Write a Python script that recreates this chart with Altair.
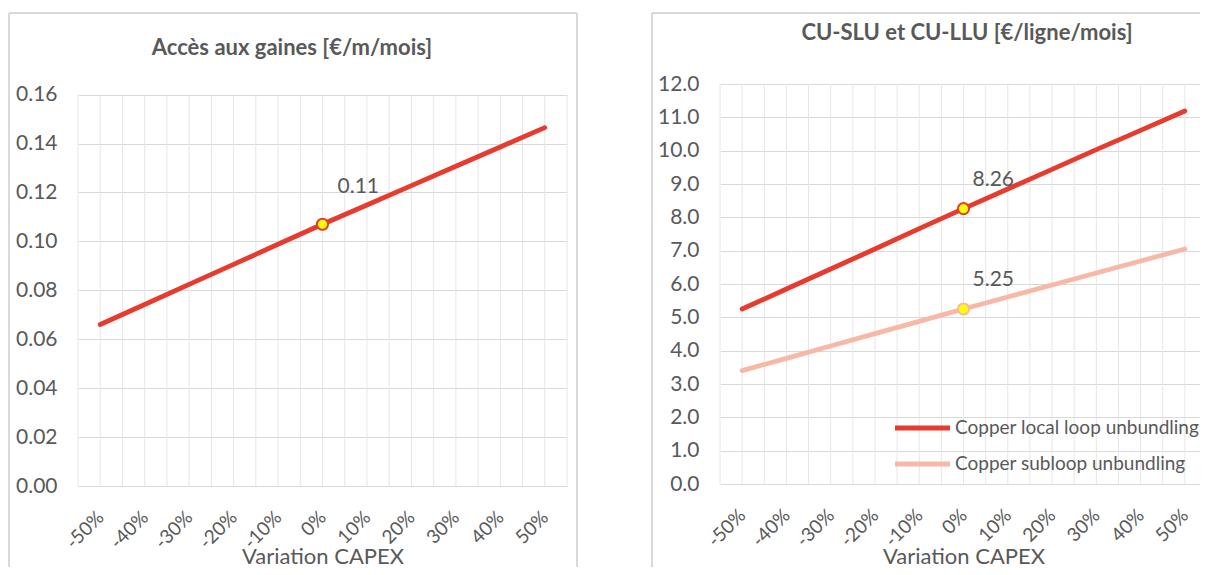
import altair as alt
import pandas as pd

# ---------------- data ----------------
variation = [-50, -40, -30, -20, -10, 0, 10, 20, 30, 40, 50]
acces_gaines = [0.0660, 0.0742, 0.0824, 0.0906, 0.0988, 0.1070, 0.1149, 0.1228, 0.1307, 0.1386, 0.1465]
llu = [5.25, 5.85, 6.45, 7.05, 7.66, 8.26, 8.85, 9.44, 10.03, 10.61, 11.19]
slu = [3.40, 3.77, 4.14, 4.51, 4.88, 5.25, 5.61, 5.97, 6.33, 6.69, 7.05]
series_names = ["Copper local loop unbundling", "Copper subloop unbundling"]
left_ticks = [0.0, 0.02, 0.04, 0.06, 0.08, 0.10, 0.12, 0.14, 0.16]
right_ticks = [0.0, 1.0, 2.0, 3.0, 4.0, 5.0, 6.0, 7.0, 8.0, 9.0, 10.0, 11.0, 12.0]
left_title = "Accès aux gaines [€/m/mois]"
right_title = "CU-SLU et CU-LLU [€/ligne/mois]"
x_title = "Variation CAPEX"

# ---------------- style ----------------
RED = "#E63B2E"
SALMON = "#F7B9A6"
YELLOW = "#FFFF00"
TXT = "#595959"
GRID_H = "#D9D9D9"
GRID_V = "#E6E6E6"
FRAME = "#D9D9D9"
FONT = "Lato"

grid_x = [-55 + 5 * i for i in range(23)]  # major + minor category gridlines
x_scale = alt.Scale(domain=[-55, 55], nice=False, zero=False)


def x_axis(title_y):
    return alt.Axis(values=variation, labelExpr="datum.value + '%'", labelAngle=315,
                    labelAlign="right", labelBaseline="middle", labelPadding=28,
                    labelFontSize=19, labelColor=TXT, labelFont=FONT, labelOverlap=False,
                    ticks=False, domain=False, grid=False, title=x_title,
                    titleFontSize=22, titleFont=FONT, titleColor=TXT,
                    titleFontWeight="normal", titleBaseline="alphabetic", titleY=title_y)


def y_axis(values, fmt):
    return alt.Axis(values=values, tickCount=len(values), format=fmt, labelFontSize=21,
                    labelPadding=21, labelColor=TXT, labelFont=FONT, labelOverlap=False,
                    ticks=False, domain=False, grid=True, gridColor=GRID_H, gridWidth=1,
                    title=None)


one = pd.DataFrame({"k": [0]})


def hrule(x1, x2, y):
    return alt.Chart(one).mark_rule(color=FRAME, strokeWidth=2).encode(
        x=alt.value(x1), x2=alt.value(x2), y=alt.value(y))


def vrule(x, y1, y2):
    return alt.Chart(one).mark_rule(color=FRAME, strokeWidth=2).encode(
        x=alt.value(x), y=alt.value(y1), y2=alt.value(y2))


def title_mark(text, x, y):
    return alt.Chart(one).mark_text(text=text, font=FONT, fontSize=22, fontWeight="bold",
                                    color=TXT, align="center", baseline="middle").encode(
        x=alt.value(x), y=alt.value(y))


BOTTOM = 483  # frame bottom relative to the plot top (cut off by the page edge)

# ---------------- left chart ----------------
W1, H1 = 489, 402
ymax1 = 0.16 * H1 / 391.4
y1_scale = alt.Scale(domain=[0, ymax1], nice=False, zero=True)
df1 = pd.DataFrame({"variation": variation, "v": acces_gaines})

vgrid1 = alt.Chart(pd.DataFrame({"gx": grid_x})).mark_rule(color=GRID_V, strokeWidth=1).encode(
    x=alt.X("gx:Q", scale=x_scale, title=x_title),
    y=alt.datum(0),
    y2=alt.datum(0.16))
line1 = alt.Chart(df1).mark_line(color=RED, strokeWidth=4.8, strokeCap="round").encode(
    x=alt.X("variation:Q", scale=x_scale, axis=x_axis(77)),
    y=alt.Y("v:Q", scale=y1_scale, axis=y_axis(left_ticks, ".2f")))
pt1 = alt.Chart(df1).transform_filter("datum.variation == 0").mark_circle(
    fill=YELLOW, stroke=RED, strokeWidth=2, size=125, opacity=1).encode(
    x=alt.X("variation:Q", scale=x_scale), y=alt.Y("v:Q", scale=y1_scale))
lab1 = alt.Chart(df1).transform_filter("datum.variation == 0").mark_text(
    align="left", baseline="middle", dx=15, dy=-37, fontSize=21, font=FONT, color=TXT).encode(
    x=alt.X("variation:Q", scale=x_scale), y=alt.Y("v:Q", scale=y1_scale),
    text=alt.Text("v:Q", format=".2f"))

left = alt.layer(
    hrule(-69, 499, -71), vrule(-69, -71, BOTTOM), vrule(499, -71, BOTTOM),
    title_mark(left_title, 214, -36),
    vgrid1, line1, pt1, lab1).properties(width=W1, height=H1)

# ---------------- right chart ----------------
W2, H2 = 487, 400
y2_scale = alt.Scale(domain=[0, 12], nice=False, zero=True)
df2 = pd.DataFrame({
    "variation": variation * 2,
    "v": llu + slu,
    "series": [series_names[0]] * len(variation) + [series_names[1]] * len(variation),
})
cscale = alt.Scale(domain=series_names, range=[RED, SALMON])

vgrid2 = alt.Chart(pd.DataFrame({"gx": grid_x})).mark_rule(color=GRID_V, strokeWidth=1).encode(
    x=alt.X("gx:Q", scale=x_scale, title=x_title),
    y=alt.datum(0),
    y2=alt.datum(12))
line2 = alt.Chart(df2).mark_line(strokeWidth=4.8, strokeCap="round").encode(
    x=alt.X("variation:Q", scale=x_scale, axis=x_axis(79)),
    y=alt.Y("v:Q", scale=y2_scale, axis=y_axis(right_ticks, ".1f")),
    color=alt.Color("series:N", scale=cscale, legend=None),
    order=alt.Order("variation:Q"))
pt2 = alt.Chart(df2).transform_filter("datum.variation == 0").mark_circle(
    fill=YELLOW, strokeWidth=2, size=125, opacity=1).encode(
    x=alt.X("variation:Q", scale=x_scale), y=alt.Y("v:Q", scale=y2_scale),
    stroke=alt.Stroke("series:N", scale=cscale, legend=None))
lab2 = alt.Chart(df2).transform_filter("datum.variation == 0").mark_text(
    align="left", baseline="middle", dx=9, dy=-29, fontSize=21, font=FONT, color=TXT).encode(
    x=alt.X("variation:Q", scale=x_scale), y=alt.Y("v:Q", scale=y2_scale),
    text=alt.Text("v:Q", format=".2f"))

legend_layers = []
for i, (name, col) in enumerate(zip(series_names, [RED, SALMON])):
    ly = 344 + 36 * i
    legend_layers.append(alt.Chart(one).mark_rule(color=col, strokeWidth=4.8).encode(
        x=alt.value(175), x2=alt.value(230), y=alt.value(ly)))
    legend_layers.append(alt.Chart(one).mark_text(
        text=name, align="left", baseline="middle", fontSize=19, font=FONT, color=TXT).encode(
        x=alt.value(235), y=alt.value(ly)))

right = alt.layer(
    hrule(-68, 500, -71), vrule(-68, -71, BOTTOM),
    title_mark(right_title, 247, -51),
    vgrid2, line2, pt2, lab2, *legend_layers).properties(width=W2, height=H2)

chart = alt.hconcat(left, right, spacing=73).properties(
    padding={"left": 0, "top": 4, "right": -21, "bottom": -1},
    background="white",
).configure_view(stroke=None)

chart.save("out.html", embed_options={"renderer": "svg", "actions": False})
